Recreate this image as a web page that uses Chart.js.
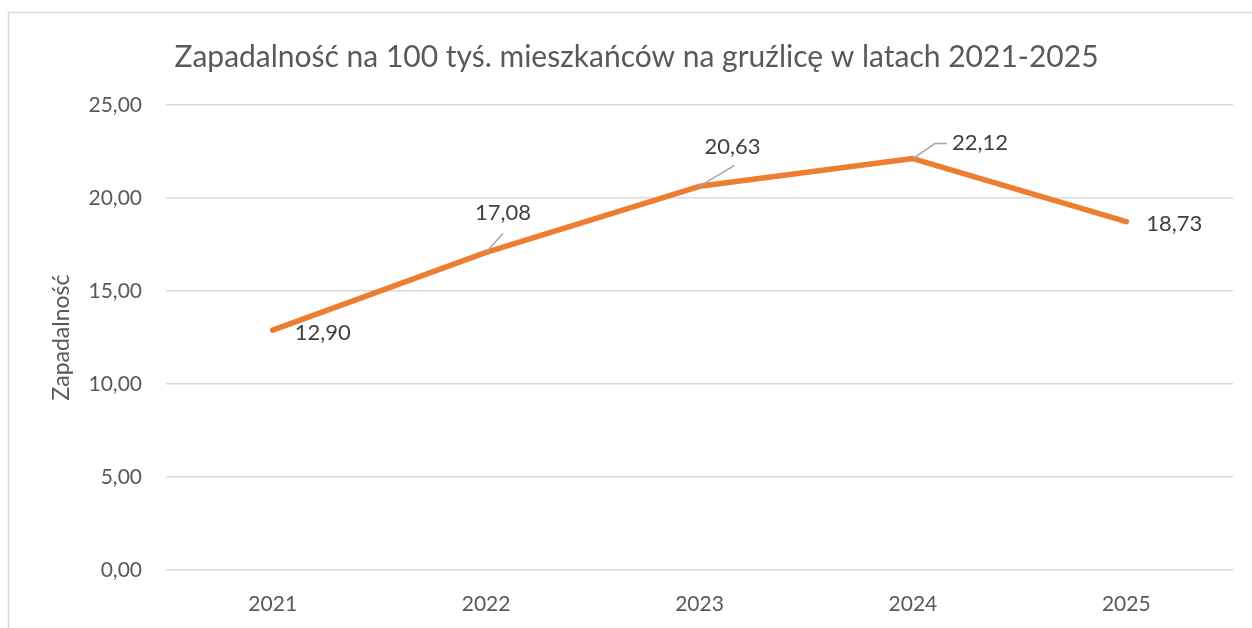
<!DOCTYPE html>
<html>
<head>
<meta charset="utf-8">
<script src="https://cdn.jsdelivr.net/npm/chart.js@4/dist/chart.umd.min.js"></script>
<style>
html,body{margin:0;padding:0;background:#fff;}
#wrap{width:1252px;height:628px;position:relative;}
</style>
</head>
<body>
<div id="wrap"><canvas id="c" width="1252" height="628"></canvas></div>
<script>
const categories = ['2021', '2022', '2023', '2024', '2025'];
const values = [12.90, 17.08, 20.63, 22.12, 18.73];
const yTicks = [0, 5, 10, 15, 20, 25];
const chartTitle = 'Zapadalność na 100 tyś. mieszkańców na gruźlicę w latach 2021-2025';
const yAxisTitle = 'Zapadalność';

const TEXT = '#595959';
const LABEL = '#404040';
const GRID = '#d9d9d9';
const FONT = 'Lato, "Open Sans", sans-serif';

function fmt(v) { return v.toFixed(2).replace('.', ','); }

const frame = {
  id: 'frame',
  beforeDraw(chart) {
    const ctx = chart.ctx;
    ctx.save();
    ctx.fillStyle = '#fff';
    ctx.fillRect(0, 0, chart.width, chart.height);
    ctx.strokeStyle = GRID;
    ctx.lineWidth = 1.5;
    ctx.beginPath();
    ctx.moveTo(8.5, chart.height);
    ctx.lineTo(8.5, 12.5);
    ctx.lineTo(chart.width, 12.5);
    ctx.stroke();
    ctx.restore();
  }
};

const dataLabels = {
  id: 'dataLabels',
  afterDatasetsDraw(chart, args, opts) {
    const ctx = chart.ctx;
    const meta = chart.getDatasetMeta(0);
    ctx.save();
    meta.data.forEach((pt, i) => {
      const o = opts.offsets[i];
      if (o.leader) {
        ctx.strokeStyle = '#a6a6a6';
        ctx.lineWidth = 1.5;
        ctx.beginPath();
        o.leader.forEach((p, k) => {
          const x = pt.x + p[0], y = pt.y + p[1];
          if (k === 0) ctx.moveTo(x, y); else ctx.lineTo(x, y);
        });
        ctx.stroke();
      }
      ctx.fillStyle = LABEL;
      ctx.font = '22px ' + FONT;
      ctx.textAlign = 'center';
      ctx.textBaseline = 'middle';
      ctx.fillText(fmt(values[i]), pt.x + o.dx, pt.y + o.dy);
    });
    ctx.restore();
  }
};

new Chart(document.getElementById('c'), {
  type: 'line',
  data: {
    labels: categories,
    datasets: [{
      data: values,
      borderColor: '#ED7D31',
      borderWidth: 5.5,
      borderCapStyle: 'round',
      borderJoinStyle: 'round',
      pointRadius: 0,
      tension: 0,
      fill: false
    }]
  },
  options: {
    responsive: false,
    animation: false,
    layout: { padding: { left: 40, right: 19, top: 12, bottom: 0 } },
    plugins: {
      legend: { display: false },
      tooltip: { enabled: false },
      title: {
        display: true,
        text: chartTitle,
        color: TEXT,
        font: { family: FONT, size: 30, weight: 'normal' },
        padding: { top: 27, bottom: 30 }
      },
      dataLabels: {
        offsets: [
          { dx: 50, dy: 3 },
          { dx: 17, dy: -39, leader: [[0, 0], [17, -19]] },
          { dx: 33, dy: -39, leader: [[0, 0], [35, -21]] },
          { dx: 67, dy: -16, leader: [[0, 0], [22, -15], [34, -15]] },
          { dx: 48, dy: 2 }
        ]
      }
    },
    scales: {
      x: {
        offset: true,
        grid: { display: false, drawTicks: false },
        border: { display: false },
        ticks: { color: TEXT, font: { family: FONT, size: 21 }, padding: 22 },
        afterFit(s) { s.height = 58; }
      },
      y: {
        min: 0,
        max: 25,
        afterBuildTicks(s) { s.ticks = yTicks.map(v => ({ value: v })); },
        grid: { color: GRID, lineWidth: 1.5, drawTicks: false },
        border: { display: false },
        ticks: { color: TEXT, font: { family: FONT, size: 21 }, padding: 24, callback: v => fmt(v) },
        title: {
          display: true,
          text: yAxisTitle,
          color: TEXT,
          font: { family: FONT, size: 23 },
          padding: { top: 8, bottom: 0 }
        },
        afterFit(s) { s.width = 126; }
      }
    }
  },
  plugins: [frame, dataLabels]
});
</script>
</body>
</html>
